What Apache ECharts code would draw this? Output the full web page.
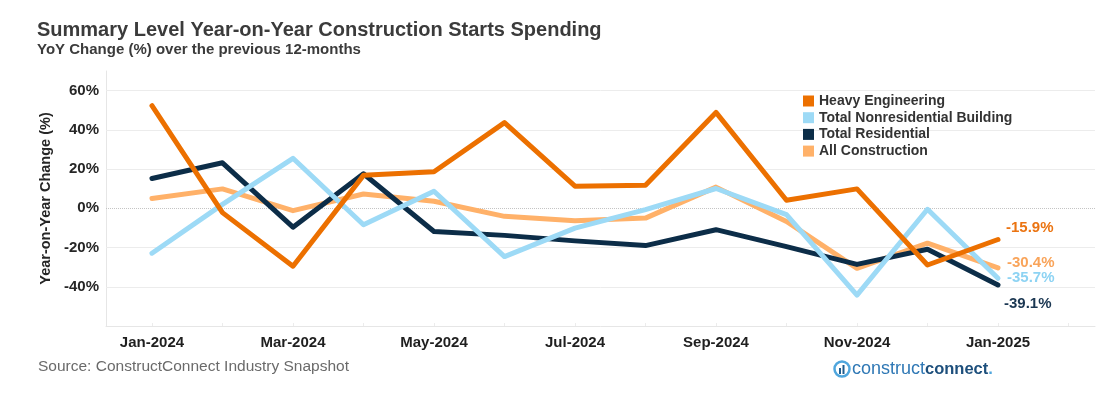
<!DOCTYPE html>
<html>
<head>
<meta charset="utf-8">
<script src="https://cdn.jsdelivr.net/npm/echarts@6/dist/echarts.min.js"></script>
<style>
  html, body { margin: 0; padding: 0; background: #ffffff; }
  #chart { width: 1116px; height: 413px; }
</style>
</head>
<body>
<div id="chart"></div>
<script>
// ---- Data ----
const months = ['Jan-2024','Feb-2024','Mar-2024','Apr-2024','May-2024','Jun-2024','Jul-2024',
                'Aug-2024','Sep-2024','Oct-2024','Nov-2024','Dec-2024','Jan-2025'];
const heavyEngineering      = [52.3, -2.2, -29.5, 16.8, 18.6, 43.7, 11.3, 11.8, 48.9, 4.1, 9.9, -28.9, -15.9];
const totalNonresidential   = [-22.9, 2.0, 25.5, -8.4, 8.7, -24.6, -10.1, -0.7, 10.1, -3.2, -44.3, -0.5, -35.7];
const totalResidential      = [15.2, 23.2, -9.6, 17.6, -11.8, -13.8, -16.6, -19.0, -10.9, -19.5, -28.6, -20.9, -39.1];
const allConstruction       = [5.0, 9.9, -1.2, 7.3, 3.6, -4.1, -6.3, -5.0, 10.8, -6.7, -30.6, -17.8, -30.4];
const seriesNames = ['Heavy Engineering', 'Total Nonresidential Building', 'Total Residential', 'All Construction'];
const yTickValues = [-40, -20, 0, 20, 40, 60];
const xLabelIndexes = [0, 2, 4, 6, 8, 10, 12];

const FONT = '"Liberation Sans", Arial, sans-serif';
const colors = {
  heavy: '#EC7000',
  nonres: '#9DDAF6',
  res: '#0C2D48',
  all: '#FFB169'
};

const toXY = arr => arr.map((v, i) => [i, v]);
const endLabelFmt = p => p.value[1].toFixed(1) + '%';

function lineSeries(name, data, color, labelColor, offset) {
  return {
    name: name,
    type: 'line',
    data: toXY(data),
    symbol: 'none',
    color: color,
    lineStyle: { width: 5, color: color, cap: 'round', join: 'round' },
    endLabel: {
      show: true,
      formatter: endLabelFmt,
      color: labelColor,
      fontFamily: FONT,
      fontWeight: 'bold',
      fontSize: 15,
      distance: 0,
      offset: offset
    },
    emphasis: { disabled: true },
    z: 3
  };
}

const gridLineData = yTickValues.map(v => ({
  yAxis: v,
  lineStyle: v === 0
    ? { type: 'dotted', color: '#c4c4c4', width: 1 }
    : { type: 'solid', color: '#ececec', width: 1 }
}));

const chart = echarts.init(document.getElementById('chart'), null, { renderer: 'canvas' });

const allSeries = lineSeries(seriesNames[3], allConstruction, colors.all, '#F9A45A', [9, -5]);
allSeries.markLine = {
  silent: true,
  symbol: ['none', 'none'],
  label: { show: false },
  z: 1,
  animation: false,
  data: gridLineData
};

const option = {
  animation: false,
  backgroundColor: '#ffffff',
  textStyle: { fontFamily: FONT },
  grid: { left: 106, right: 21, top: 71, bottom: 87, outerBoundsMode: 'none' },
  graphic: [
    {
      type: 'text', left: 37, top: 20,
      style: { text: 'Summary Level Year-on-Year Construction Starts Spending', font: 'bold 20px ' + FONT, fill: '#3b3b3b' }
    },
    {
      type: 'text', left: 37, top: 42,
      style: { text: 'YoY Change (%) over the previous 12-months', font: 'bold 15px ' + FONT, fill: '#3b3b3b' }
    },
    {
      type: 'text', left: 38, top: 359,
      style: { text: 'Source: ConstructConnect Industry Snapshot', font: '15.5px ' + FONT, fill: '#6a6a6a' }
    },
    {
      type: 'group', left: 832, top: 359,
      children: [
        { type: 'circle', shape: { cx: 9, cy: 10, r: 7.5 }, style: { fill: 'none', stroke: '#4FA6DD', lineWidth: 2.5 } },
        { type: 'rect', shape: { x: 6, y: 9, width: 2, height: 6 }, style: { fill: '#1F5C8E' } },
        { type: 'rect', shape: { x: 9.5, y: 6, width: 2, height: 9 }, style: { fill: '#1F5C8E' } },
        {
          type: 'text', x: 19, y: 1,
          style: {
            text: '{a|construct}{b|connect}{c|.}',
            rich: {
              a: { fontFamily: FONT, fontSize: 18, fill: '#2F78B5', fontWeight: 'normal' },
              b: { fontFamily: FONT, fontSize: 16.5, fill: '#1D4F7C', fontWeight: 'bold' },
              c: { fontFamily: FONT, fontSize: 16.5, fill: '#4FA6DD', fontWeight: 'bold' }
            }
          }
        }
      ]
    }
  ],
  legend: {
    left: 803, top: 93,
    padding: 0,
    orient: 'vertical',
    icon: 'rect',
    itemWidth: 11, itemHeight: 11,
    itemGap: 0.7,
    selectedMode: false,
    data: seriesNames,
    textStyle: { fontFamily: FONT, fontSize: 14, fontWeight: 'bold', color: '#333333', lineHeight: 16 }
  },
  xAxis: {
    type: 'value',
    min: -0.652,
    max: 13.376,
    splitLine: { show: false },
    axisLine: { show: true, onZero: false, lineStyle: { color: '#e6e6e6', width: 1 } },
    axisTick: {
      show: true, inside: true, length: 3,
      customValues: months.map((m, i) => i).concat([13]),
      lineStyle: { color: '#ececec' }
    },
    axisLabel: {
      customValues: xLabelIndexes,
      formatter: v => months[Math.round(v)] || '',
      fontFamily: FONT, fontSize: 15, fontWeight: 'bold', color: '#1f1f1f',
      margin: 9
    }
  },
  yAxis: {
    type: 'value',
    min: -60, max: 70, interval: 20,
    name: 'Year-on-Year Change (%)',
    nameLocation: 'middle',
    nameGap: 52,
    nameRotate: 90,
    nameTextStyle: { fontFamily: FONT, fontSize: 14.5, fontWeight: 'bold', color: '#262626' },
    splitLine: { show: false },
    axisLine: { show: true, onZero: false, lineStyle: { color: '#e6e6e6', width: 1 } },
    axisTick: { show: false },
    axisLabel: {
      formatter: v => (yTickValues.indexOf(v) >= 0 ? v + '%' : ''),
      fontFamily: FONT, fontSize: 15, fontWeight: 'bold', color: '#262626',
      margin: 7
    }
  },
  series: [
    allSeries,
    lineSeries(seriesNames[2], totalResidential, colors.res, '#1B3752', [6, 19]),
    lineSeries(seriesNames[1], totalNonresidential, colors.nonres, '#8DD3F3', [9, 0]),
    lineSeries(seriesNames[0], heavyEngineering, colors.heavy, '#EB7412', [8, -12])
  ]
};

chart.setOption(option);
</script>
</body>
</html>
